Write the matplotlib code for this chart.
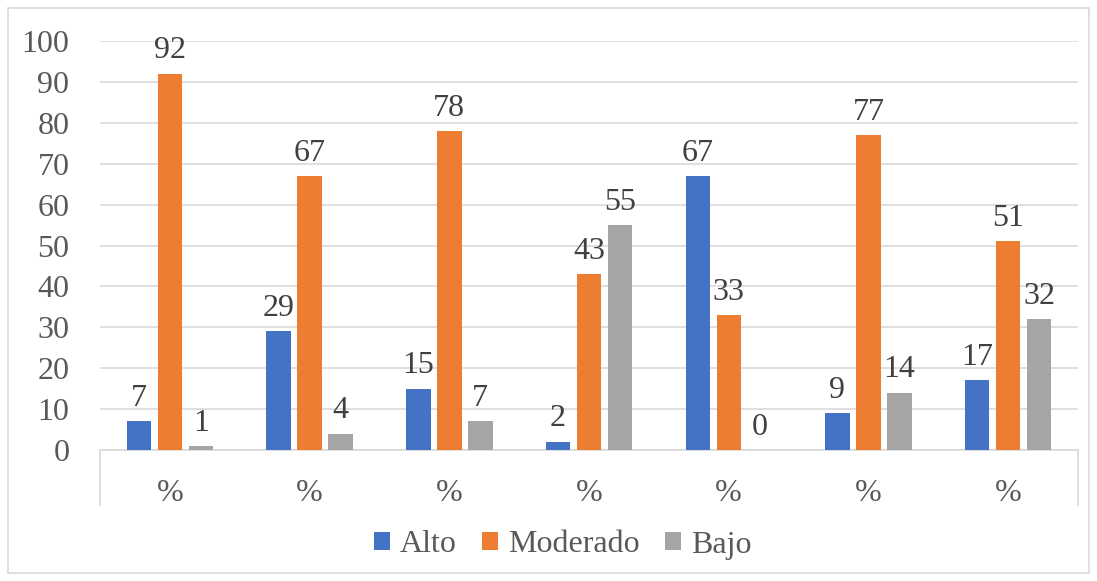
import numpy as np
import matplotlib.pyplot as plt
from matplotlib.patches import Rectangle
from matplotlib.lines import Line2D

# chart data
categories = ["%", "%", "%", "%", "%", "%", "%"]
alto = [7, 29, 15, 2, 67, 9, 17]
moderado = [92, 67, 78, 43, 33, 77, 51]
bajo = [1, 4, 7, 55, 0, 14, 32]

series = [("Alto", alto, "#4472C4"),
          ("Moderado", moderado, "#ED7D31"),
          ("Bajo", bajo, "#A5A5A5")]

plt.rcParams['font.family'] = ['Liberation Serif', 'DejaVu Serif']
fs = 23

fig = plt.figure(figsize=(10.97, 5.81), dpi=100)
ax = fig.add_axes([0.0912, 0.2255, 0.8915, 0.7039])

# outer chart border
fig.patches.append(Rectangle((8/1097, 8/581), 1 - 16/1097, 1 - 16/581,
                             transform=fig.transFigure, fill=False,
                             edgecolor="#D9D9D9", linewidth=1.2))

x = np.arange(len(categories))
w = 0.175
step = 0.222
for i, (name, vals, col) in enumerate(series):
    pos = x + (i - 1) * step
    bars = ax.bar(pos, vals, width=w, color=col, label=name, zorder=3)
    for b, v in zip(bars, vals):
        ax.annotate(str(v), (b.get_x() + b.get_width() / 2, v),
                    xytext=(0, 6), textcoords="offset points",
                    ha="center", va="bottom", fontsize=fs, color="#404040")

ax.set_xlim(-0.5, len(categories) - 0.5)
ax.set_ylim(0, 100)
ax.set_yticks(range(0, 101, 10))
ax.yaxis.grid(True, color="#D9D9D9", linewidth=1.2, zorder=0)
ax.set_axisbelow(True)

for s in ["top", "right", "left"]:
    ax.spines[s].set_visible(False)
ax.spines["bottom"].set_color("#D9D9D9")
ax.spines["bottom"].set_linewidth(1.2)

ax.set_xticks(x)
ax.set_xticklabels(categories)
ax.tick_params(axis="x", length=0, pad=21, labelsize=fs, labelcolor="#595959")
ax.tick_params(axis="y", length=0, pad=22, labelsize=fs, labelcolor="#595959")

# category separator lines at the outer edges
for xe in [0, 1]:
    ax.add_line(Line2D([xe, xe], [0, -0.135], transform=ax.transAxes,
                       color="#D9D9D9", linewidth=1.2, clip_on=False))

leg = ax.legend(loc="center", bbox_to_anchor=(0.513, 36/581), bbox_transform=fig.transFigure,
                ncol=3, frameon=False, fontsize=fs, handlelength=0.5, handleheight=0.5,
                handletextpad=0.3, columnspacing=0.8)
for t in leg.get_texts():
    t.set_color("#595959")

fig.savefig("out.png", dpi=100)
